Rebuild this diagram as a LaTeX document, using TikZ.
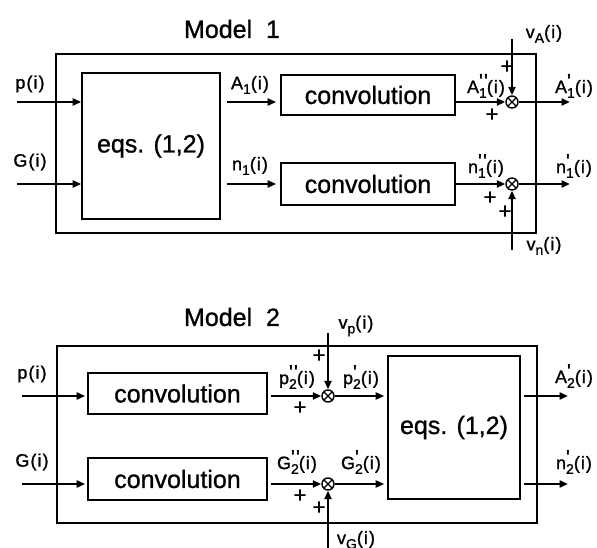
\documentclass[tikz,border=0pt]{standalone}
\usepackage{fontspec}
\setmainfont{Liberation Sans}
\newfontfamily\labfont[FakeBold=1.2,LetterSpace=6]{Liberation Sans}
\newfontfamily\blkfont[FakeBold=1.0]{Liberation Sans}
\usetikzlibrary{arrows.meta,calc}
\newcommand\lbl[3]{#1\rlap{\raisebox{0.55ex}{\fontsize{20}{20}\selectfont #2}}\raisebox{-0.5ex}{\fontsize{14}{14}\selectfont #3}(i)}
\newcommand\lsub[2]{#1\raisebox{-0.5ex}{\fontsize{14}{14}\selectfont #2}(i)}
\begin{document}
\begin{tikzpicture}[x=1pt,y=-1pt,
  every node/.style={inner sep=0pt},
  outer/.style={draw, line width=1.2pt},
  blk/.style={draw, line width=1.6pt, font=\blkfont\fontsize{25}{28}\selectfont},
  sig/.style={line width=2.5pt, -{Triangle[length=8.5pt,width=7pt]}},
  sum/.style={circle, draw, line width=1.4pt, minimum size=12pt, inner sep=0pt,
    path picture={\draw[line width=1.1pt] (path picture bounding box.north west)--(path picture bounding box.south east)
      (path picture bounding box.north east)--(path picture bounding box.south west);}},
  lab/.style={font=\labfont\fontsize{18}{20}\selectfont},
  pl/.style={font=\blkfont\fontsize{22}{22}\selectfont},
  ttl/.style={font=\blkfont\fontsize{25}{28}\selectfont}]
\useasboundingbox (0,0) rectangle (597,548);

% ---------------- Model 1 ----------------
\node[ttl] (t1) at (232,29) {Model\ \ 1};
\node[outer, minimum width=480pt, minimum height=179pt] (o1) at (296,143.5) {};
\node[blk, minimum width=138pt, minimum height=146pt] (eq1) at (151,146) {eqs. (1,2)};
\node[blk, minimum width=174pt, minimum height=40pt] (c1a) at (368,95) {convolution};
\node[blk, minimum width=174pt, minimum height=42pt] (c1b) at (368,184) {convolution};
\node[sum] (mA) at (512,102) {};
\node[sum] (mn) at (512,184) {};

\coordinate (pin1) at (17,102);
\coordinate (gin1) at (17,184);
\coordinate (vAt) at (512,39);
\coordinate (vnb) at (512,250);
\coordinate (Aout) at (570,102);
\coordinate (nout) at (570,184);

\draw[sig] (pin1) -- (eq1.west |- pin1);
\draw[sig] (gin1) -- (eq1.west |- gin1);
\draw[sig, shorten <=6pt, shorten >=4pt] (eq1.east |- mA) -- (c1a.west |- mA);
\draw[sig, shorten <=6pt, shorten >=4pt] (eq1.east |- mn) -- (c1b.west |- mn);
\draw[sig] (c1a.east |- mA) -- (mA);
\draw[sig] (c1b.east |- mn) -- (mn);
\draw[sig] (vAt) -- (mA);
\draw[sig] (vnb) -- (mn);
\draw[sig] (mA) -- (Aout);
\draw[sig] (mn) -- (nout);

\node[lab] (lp1) at (30,84) {p(i)};
\node[lab] (lg1) at (30,162) {G(i)};
\node[lab] (lA1) at (250,85) {\lsub{A}{1}};
\node[lab] (ln1) at (250,166) {\lsub{n}{1}};
\node[lab] (lA1pp) at (486,86) {\lbl{A}{''}{1}};
\node[lab] (lA1p) at (574,86) {\lbl{A}{'}{1}};
\node[lab] (lvA) at (544,34) {\lsub{v}{A}};
\node[lab] (ln1pp) at (486,166) {\lbl{n}{''}{1}};
\node[lab] (ln1p) at (574,166) {\lbl{n}{'}{1}};
\node[lab] (lvn) at (544,246) {\lsub{v}{n}};
\node[pl] (p1) at (507,67) {+};
\node[pl] (p2) at (492,115) {+};
\node[pl] (p3) at (490,198) {+};
\node[pl] (p4) at (505,212) {+};

% ---------------- Model 2 ----------------
\node[ttl] (t2) at (232,317) {Model\ \ 2};
\node[outer, minimum width=480pt, minimum height=177pt] (o2) at (297,434.5) {};
\node[blk, minimum width=179pt, minimum height=41pt] (c2a) at (177.5,393.5) {convolution};
\node[blk, minimum width=179pt, minimum height=42pt] (c2b) at (177.5,479) {convolution};
\node[blk, minimum width=132pt, minimum height=143pt] (eq2) at (454,427.5) {eqs. (1,2)};
\node[sum] (mp) at (328,396) {};
\node[sum] (mG) at (328,484) {};

\coordinate (pin2) at (22,396);
\coordinate (gin2) at (22,484);
\coordinate (vpt) at (328,333);
\coordinate (vGb) at (328,552);
\coordinate (A2out) at (568,396);
\coordinate (n2out) at (568,484);

\draw[sig, shorten >=2pt] (pin2) -- (c2a.west |- pin2);
\draw[sig, shorten >=2pt] (gin2) -- (c2b.west |- gin2);
\draw[sig, shorten <=3pt] (c2a.east |- mp) -- (mp);
\draw[sig, shorten <=3pt] (c2b.east |- mG) -- (mG);
\draw[sig] (vpt) -- (mp);
\draw[sig] (vGb) -- (mG);
\draw[sig, shorten >=3pt] (mp) -- (eq2.west |- mp);
\draw[sig, shorten >=3pt] (mG) -- (eq2.west |- mG);
\draw[sig, shorten <=3pt] (eq2.east |- mp) -- (A2out);
\draw[sig, shorten <=3pt] (eq2.east |- mG) -- (n2out);

\node[lab] (lp2) at (32,374) {p(i)};
\node[lab] (lg2) at (32,462) {G(i)};
\node[lab] (lp2pp) at (297,377) {\lbl{p}{''}{2}};
\node[lab] (lp2p) at (361,377) {\lbl{p}{'}{2}};
\node[lab] (lvp) at (356,326) {\lsub{v}{p}};
\node[lab] (lA2p) at (574,376) {\lbl{A}{'}{2}};
\node[lab] (ln2p) at (574,462) {\lbl{n}{'}{2}};
\node[lab] (lG2pp) at (297,462) {\lbl{G}{''}{2}};
\node[lab] (lG2p) at (361,462) {\lbl{G}{'}{2}};
\node[lab] (lvG) at (356,540) {\lsub{v}{G}};
\node[pl] (q1) at (319,356) {+};
\node[pl] (q2) at (300,408) {+};
\node[pl] (q3) at (300,496) {+};
\node[pl] (q4) at (319,508) {+};
\end{tikzpicture}
\end{document}
